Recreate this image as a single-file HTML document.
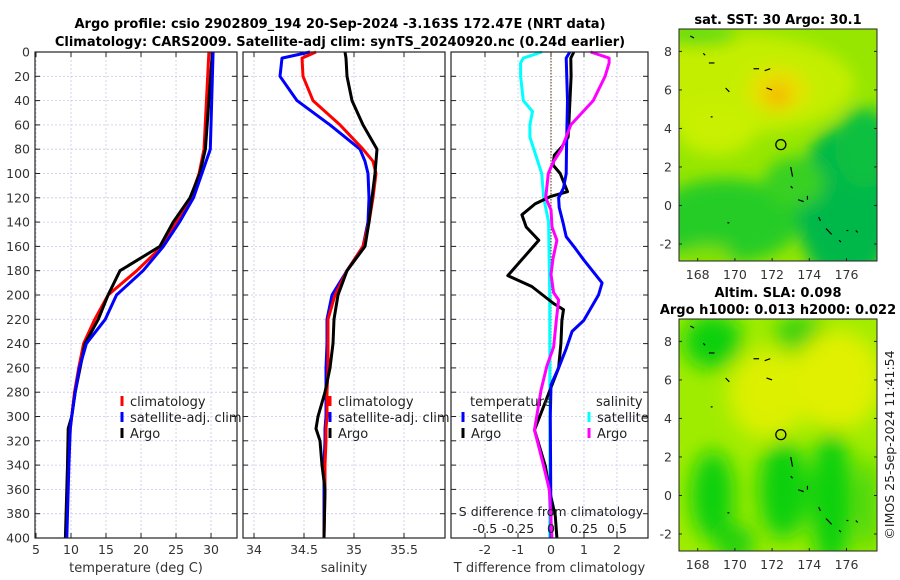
<!DOCTYPE html>
<html><head><meta charset="utf-8"><style>
body{margin:0;background:#fff;}
svg{display:block;font-family:"DejaVu Sans","Liberation Sans",sans-serif;}
</style></head><body>
<svg id="fig" width="900" height="580" viewBox="0 0 900 580" xmlns="http://www.w3.org/2000/svg">
<defs>
<filter id="blur1" x="-50%" y="-50%" width="200%" height="200%"><feGaussianBlur stdDeviation="8"/></filter>
<filter id="blur2" x="-50%" y="-50%" width="200%" height="200%"><feGaussianBlur stdDeviation="10"/></filter>
<clipPath id="m1c"><rect x="679" y="29" width="198" height="232"/></clipPath>
<clipPath id="m2c"><rect x="679" y="319" width="198" height="232"/></clipPath>
</defs>
<text x="340" y="28" font-size="13" font-weight="bold" text-anchor="middle">Argo profile: csio 2902809_194 20-Sep-2024 -3.163S 172.47E (NRT data)</text>
<text x="340" y="46" font-size="13" font-weight="bold" text-anchor="middle">Climatology: CARS2009. Satellite-adj clim: synTS_20240920.nc (0.24d earlier)</text>
<g id="plots"></g>
<g id="maps"></g>
<text transform="translate(894,445) rotate(-90)" font-size="12.5" fill="#222" text-anchor="middle">©IMOS 25-Sep-2024 11:41:54</text>
</svg>
<script>
// ---- data ----
const depthTicks=[0,20,40,60,80,100,120,140,160,180,200,220,240,260,280,300,320,340,360,380,400];
const tempTicks=[5,10,15,20,25,30];
const salTicks=[34,34.5,35,35.5];
const tdiffTicks=[-2,-1,0,1,2];
const sdiffTicks=[-0.5,-0.25,0,0.25,0.5];
const sdiffLabels=["-0.5","-0.25","0","0.25","0.5"];

const tempDepth=[0,80,100,120,140,160,180,200,220,240,260,280,300,310,340,400];
const tempClim=[29.7,29.0,28.3,27.1,25.1,23.0,19.4,15.3,13.4,11.8,11.1,10.5,10.1,9.9,9.6,9.3];
const tempSat=[30.3,29.9,28.7,27.5,25.5,23.2,20.3,16.5,14.9,12.2,11.2,10.6,10.1,9.9,9.7,9.4];
const tempArgo=[30.2,29.2,28.4,27.0,24.6,22.7,17.0,15.3,13.9,12.0,11.3,10.6,10.1,9.6,9.5,9.2];

const salDepth=[0,5,20,40,60,80,90,100,120,140,160,180,200,220,240,260,280,300,310,320,340,360,400];
const salClim=[34.62,34.48,34.49,34.59,34.86,35.09,35.19,35.22,35.19,35.15,35.09,34.93,34.81,34.74,34.74,34.74,34.73,34.73,34.72,34.72,34.71,34.71,34.70];
const salSat=[34.56,34.28,34.26,34.43,34.76,35.06,35.11,35.14,35.15,35.14,35.09,34.93,34.78,34.73,34.73,34.72,34.72,34.72,34.71,34.71,34.70,34.70,34.70];
const salArgo=[34.91,34.92,34.93,34.98,35.09,35.23,35.22,35.21,35.18,35.15,35.11,34.93,34.84,34.80,34.79,34.76,34.71,34.64,34.62,34.66,34.68,34.71,34.70];

const tSatDepth=[0,5,40,80,100,112,120,128,140,152,160,171,190,200,221,230,245,260,274,300,400];
const tSatDiff=[0.57,0.46,0.5,0.47,0.46,0.38,0.23,0.25,0.36,0.46,0.69,0.99,1.55,1.44,0.99,0.64,0.45,0.23,0,-0.02,0];
const tArgoDepth=[0,5,20,60,70,78,85,93,100,115,119,125,134,144,155,184,193,207,212,221,240,260,311,341,360,382,400];
const tArgoDiff=[0.69,0.6,0.61,0.54,0.52,0.33,0.1,0.06,0.28,0.5,-0.02,-0.48,-0.88,-0.75,-0.37,-1.31,-0.58,0.08,0.38,0.33,0.3,0.23,-0.5,-0.17,-0.05,0.13,0.18];
const sSatDepth=[0,5,9,20,40,49,60,70,80,100,120,140,200,300,400];
const sSatDiff=[-0.068,-0.21,-0.23,-0.23,-0.21,-0.14,-0.16,-0.16,-0.13,-0.07,-0.055,-0.018,-0.01,-0.008,-0.01];
const sArgoDepth=[0,5,9,20,40,60,80,91,100,120,130,144,155,170,183,198,204,221,243,258,278,311,341,360,400];
const sArgoDiff=[0.30,0.44,0.44,0.41,0.32,0.15,0.08,0.015,-0.02,-0.04,0,0.008,0.045,0.015,0,0.02,0.058,0.04,0.02,-0.03,-0.075,-0.125,-0.055,-0.013,0.008];

// ---- helpers ----
const NS="http://www.w3.org/2000/svg";
const plots=document.getElementById('plots');
function mk(tag,attrs,parent){const e=document.createElementNS(NS,tag);for(const k in attrs)e.setAttribute(k,attrs[k]);(parent||plots).appendChild(e);return e;}
const Y0=52,Y1=538,DMAX=400;
function yS(d){return Y0+(Y1-Y0)*d/DMAX;}
function xScale(x0,x1,vmin,vmax){return v=>x0+(x1-x0)*(v-vmin)/(vmax-vmin);}

const panels=[
 {name:'temperature',x0:35,x1:237,vmin:4.857,vmax:33.71,ticks:tempTicks,labels:tempTicks.map(String),xlabel:'temperature (deg C)'},
 {name:'salinity',x0:243,x1:445,vmin:33.89,vmax:35.91,ticks:salTicks,labels:salTicks.map(String),xlabel:'salinity'},
 {name:'difference',x0:451,x1:648,vmin:-3.03,vmax:2.94,ticks:tdiffTicks,labels:tdiffTicks.map(String),xlabel:'T difference from climatology'}
];
panels.forEach((p,i)=>{
 p.xs=xScale(p.x0,p.x1,p.vmin,p.vmax);
 const g=mk('g',{});
 
 
 depthTicks.forEach(d=>{const l=mk('line',{x1:p.x0,x2:p.x1,y1:yS(d),y2:yS(d),stroke:'#c8c8e8','stroke-width':0.8,'stroke-dasharray':'2,2'},g);});
 p.ticks.forEach(t=>{const x=p.xs(t);const l=mk('line',{x1:x,x2:x,y1:Y0,y2:Y1,stroke:'#c8c8e8','stroke-width':0.8,'stroke-dasharray':'2,2'},g);
  const t1=mk('line',{x1:x,x2:x,y1:Y1,y2:Y1-5,stroke:'#222'},g);
  const t2=mk('line',{x1:x,x2:x,y1:Y0,y2:Y0+5,stroke:'#222'},g);});
 p.labels.forEach((lb,j)=>{const tx=mk('text',{x:p.xs(p.ticks[j]),y:554,'font-size':12.5,'text-anchor':'middle',fill:'#333'},g);tx.textContent=lb;});
 depthTicks.forEach(d=>{
  const a=mk('line',{x1:p.x0,x2:p.x0+5,y1:yS(d),y2:yS(d),stroke:'#222'},g);
  const b=mk('line',{x1:p.x1,x2:p.x1-5,y1:yS(d),y2:yS(d),stroke:'#222'},g);
  if(i===0){const tx=mk('text',{x:30,y:yS(d)+4.5,'font-size':12.5,'text-anchor':'end',fill:'#333'},g);tx.textContent=d;}
 });
 const xl=mk('text',{x:(p.x0+p.x1)/2,y:572,'font-size':13,'text-anchor':'middle',fill:'#333'},g);xl.textContent=p.xlabel;
 
 
 p.g=g;
});
function line(p,xs,depths,vals,color,name,w){
 const pts=depths.map((d,k)=>xs(vals[k]).toFixed(1)+','+yS(d).toFixed(1)).join(' ');
 const e=mk('polyline',{points:pts,fill:'none',stroke:color,'stroke-width':w||3,'stroke-linejoin':'round'},p.g);
 
 
}
const P1=panels[0],P2=panels[1],P3=panels[2];
line(P1,P1.xs,tempDepth,tempClim,'#f00','temp-climatology-line');
line(P1,P1.xs,tempDepth,tempArgo,'#000','temp-argo-line');
line(P1,P1.xs,tempDepth,tempSat,'#00f','temp-satellite-line');
line(P2,P2.xs,salDepth,salSat,'#00f','sal-satellite-line');
line(P2,P2.xs,salDepth,salClim,'#f00','sal-climatology-line');
line(P2,P2.xs,salDepth,salArgo,'#000','sal-argo-line');
const z=mk('line',{x1:P3.xs(0),x2:P3.xs(0),y1:Y0,y2:Y1,stroke:'#553300','stroke-width':1,'stroke-dasharray':'1.5,1.5'},P3.g);


const sx=xScale(P3.x0,P3.x1,P3.vmin/4,P3.vmax/4);
line(P3,sx,sSatDepth,sSatDiff,'#0ff','sdiff-satellite-line');
line(P3,P3.xs,tArgoDepth,tArgoDiff,'#000','tdiff-argo-line');
line(P3,P3.xs,tSatDepth,tSatDiff,'#00f','tdiff-satellite-line');
line(P3,sx,sArgoDepth,sArgoDiff,'#f0f','sdiff-argo-line');
const st=mk('text',{x:P3.xs(0),y:516,'font-size':12.5,'text-anchor':'middle',fill:'#222'},P3.g);st.textContent='S difference from climatology';


sdiffTicks.forEach((t,j)=>{const tx=mk('text',{x:sx(t),y:533,'font-size':12.5,'text-anchor':'middle',fill:'#222'},P3.g);tx.textContent=sdiffLabels[j];});
panels.forEach(p=>{const r=mk('rect',{x:p.x0,y:Y0,width:p.x1-p.x0,height:Y1-Y0,fill:'none',stroke:'#222','stroke-width':1.2},p.g);});
function legend(p,x,y,color,label,name){
 const g=mk('g',{},p.g);
 
 
 mk('line',{x1:x,x2:x,y1:y-10,y2:y,stroke:color,'stroke-width':3},g);
 const t=mk('text',{x:x+8,y:y,'font-size':13,fill:'#222'},g);t.textContent=label;
}
legend(P1,122,406,'#f00','climatology','legend-entry-climatology');
legend(P1,122,422,'#00f','satellite-adj. clim','legend-entry-satellite');
legend(P1,122,438,'#000','Argo','legend-entry-argo');
legend(P2,330,406,'#f00','climatology','legend-entry-climatology');
legend(P2,330,422,'#00f','satellite-adj. clim','legend-entry-satellite');
legend(P2,330,438,'#000','Argo','legend-entry-argo');
const lt=mk('text',{x:470,y:406,'font-size':13,fill:'#222'},P3.g);lt.textContent='temperature';
const ls=mk('text',{x:596,y:406,'font-size':13,fill:'#222'},P3.g);ls.textContent='salinity';
legend(P3,463,422,'#00f','satellite','legend-entry-t-satellite');
legend(P3,463,438,'#000','Argo','legend-entry-t-argo');
legend(P3,589,422,'#0ff','satellite','legend-entry-s-satellite');
legend(P3,589,438,'#f0f','Argo','legend-entry-s-argo');

// ---- maps ----
const maps=document.getElementById('maps');
const lonTicks=[168,170,172,174,176];
const latTicks=[8,6,4,2,0,-2];
function lonX(l){return 697.7+(l-168)*18.6;}
const islands=[[167.6,8.8,167.8,8.7],[168.3,7.9,168.4,7.8],[168.6,7.4,168.9,7.4],[169.5,6.1,169.7,5.9],[171,7.1,171.3,7.1],[171.6,7.0,171.9,7.1],[171.7,6.1,172,6.0],[168.7,4.6,168.8,4.6],[173,2.0,173.1,1.5],[173,1.0,173.1,0.9],[173.4,0.3,173.7,0.2],[173.9,0.5,173.9,0.3],[174.5,-0.6,174.6,-0.8],[174.9,-1.2,175.2,-1.5],[175.6,-1.8,175.7,-1.9],[176,-1.3,176.1,-1.3],[176.5,-1.3,176.6,-1.4],[169.6,-0.9,169.7,-0.9]];
function drawMap(y0,clip,blobs,base,title,name,filt){
 const g=mk('g',{},maps);
 
 
 const latY=l=>y0+22.4+(8-l)*19.26;
 const inner=mk('g',{'clip-path':'url(#'+clip+')'},g);
 mk('rect',{x:679,y:y0,width:198,height:232,fill:base},inner);
 const bg=mk('g',{filter:'url(#'+filt+')'},inner);
 blobs.forEach(b=>mk('ellipse',{cx:lonX(b[0]),cy:latY(b[1]),rx:b[2],ry:b[3],fill:b[4]},bg));
 islands.forEach(s=>mk('line',{x1:lonX(s[0]),y1:latY(s[1]),x2:lonX(s[2]),y2:latY(s[3]),stroke:'#000','stroke-width':1.2},inner));
 const c=mk('circle',{cx:lonX(172.47),cy:latY(3.16),r:5,fill:'none',stroke:'#000','stroke-width':1.3},g);
 
 
 mk('rect',{x:679,y:y0,width:198,height:232,fill:'none',stroke:'#222','stroke-width':1},g);
 lonTicks.forEach(l=>{mk('line',{x1:lonX(l),x2:lonX(l),y1:y0+232,y2:y0+229,stroke:'#222'},g);const t=mk('text',{x:lonX(l),y:y0+250,'font-size':12.5,'text-anchor':'middle',fill:'#333'},g);t.textContent=l;});
 latTicks.forEach(l=>{mk('line',{x1:679,x2:682,y1:latY(l),y2:latY(l),stroke:'#222'},g);mk('line',{x1:877,x2:874,y1:latY(l),y2:latY(l),stroke:'#222'},g);const t=mk('text',{x:672,y:latY(l)+4.5,'font-size':12.5,'text-anchor':'end',fill:'#333'},g);t.textContent=l;});
 title.forEach((tt,k)=>{const t=mk('text',{x:778,y:tt[1],'font-size':13,'font-weight':'bold','text-anchor':'middle'},g);t.textContent=tt[0];});
}
drawMap(29,'m1c',[
 [170,6.3,120,50,'#c4ee00'],[172.3,6,30,22,'#e8e000'],[172.3,5.7,12,12,'#f4b800'],[169,4,40,26,'#c8f000'],[168,8.8,40,10,'#60dc10'],
 [169.5,-0.8,75,42,'#28cc28'],[176,0,50,80,'#00b848'],[177,3,30,40,'#10c040'],[173.2,1.2,30,25,'#38d020'],[168.5,-2.6,25,10,'#80e000']
],'#96e600',[['sat. SST: 30 Argo: 30.1',24]],'sst-map','blur1');
drawMap(319,'m2c',[
 [168.8,8,30,28,'#10d010'],[173.5,8.4,25,18,'#30d010'],[171.8,5.3,40,45,'#dcf000'],[175.5,6,45,50,'#e0f000'],
 [168.8,0,22,45,'#10d010'],[172.6,0.3,25,50,'#10d010'],[175.2,-0.2,22,70,'#10d010'],[170,-2.5,20,20,'#20d010'],[177.2,-0.5,8,50,'#30d010']
],'#a0ec00',[['Altim. SLA: 0.098',297],['Argo h1000: 0.013 h2000: 0.022',314]],'sla-map','blur2');
</script>
</body></html>
